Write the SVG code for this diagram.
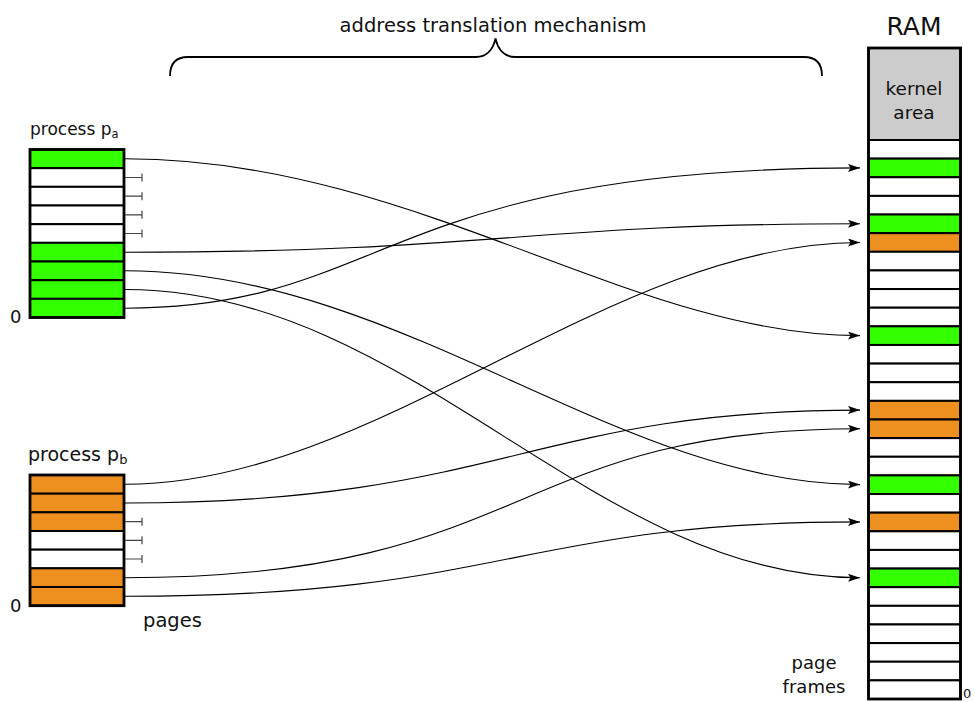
<svg xmlns="http://www.w3.org/2000/svg" width="975" height="702" viewBox="0 0 975 702">
<defs>
<style>
text{font-family:"DejaVu Sans","Liberation Sans",sans-serif;fill:#111}
.g{fill:#33ff00}
.o{fill:#ee9020}
.w{fill:#ffffff}
.k{fill:#cccccc}
.row{stroke:#000;stroke-width:2}
.frame{fill:none;stroke:#000;stroke-width:2.8}
.tick{fill:none;stroke:#444;stroke-width:1.2}
.conn{fill:none;stroke:#000;stroke-width:1.1}
</style>
<marker id="arr" viewBox="0 0 12 8" markerUnits="userSpaceOnUse" markerWidth="12" markerHeight="8" refX="12" refY="4" orient="auto">
<path d="M0,0 L12,4 L0,8 L2.5,4 z" fill="#000"/>
</marker>
</defs>
<rect width="975" height="702" fill="#fff"/>

<g id="brace">
<text x="493" y="31.5" font-size="19.5" text-anchor="middle">address translation mechanism</text>
<path d="M170,76 C170,64 175,57 188,57 L476,57 C486,57 493,50 495.5,38.5 C498,50 505,57 515,57 L804,57 C817,57 822,64 822,76" fill="none" stroke="#000" stroke-width="1.8"/>
</g>

<g id="process-a">
<text x="30" y="135" font-size="17">process p<tspan font-size="11.5" dy="3">a</tspan></text>
<text x="10" y="323" font-size="18">0</text>
<rect class="g row" x="30" y="149.5" width="94" height="18.67"/>
<rect class="w row" x="30" y="168.17" width="94" height="18.67"/>
<rect class="w row" x="30" y="186.83" width="94" height="18.67"/>
<rect class="w row" x="30" y="205.5" width="94" height="18.67"/>
<rect class="w row" x="30" y="224.17" width="94" height="18.67"/>
<rect class="g row" x="30" y="242.83" width="94" height="18.67"/>
<rect class="g row" x="30" y="261.5" width="94" height="18.67"/>
<rect class="g row" x="30" y="280.17" width="94" height="18.67"/>
<rect class="g row" x="30" y="298.83" width="94" height="18.67"/>
<rect class="frame" x="30" y="149.5" width="94" height="168"/>
<path class="tick" d="M125,177.5 H142 M142,173.5 V181.5 M125,196.2 H142 M142,192.2 V200.2 M125,214.8 H142 M142,210.8 V218.8 M125,233.5 H142 M142,229.5 V237.5"/>
</g>

<g id="process-b">
<text x="28" y="461" font-size="19">process p<tspan font-size="13" dy="3">b</tspan></text>
<text x="10" y="612" font-size="18">0</text>
<text x="143" y="627" font-size="19.5">pages</text>
<rect class="o row" x="30" y="475" width="94" height="18.67"/>
<rect class="o row" x="30" y="493.67" width="94" height="18.67"/>
<rect class="o row" x="30" y="512.33" width="94" height="18.67"/>
<rect class="w row" x="30" y="531" width="94" height="18.67"/>
<rect class="w row" x="30" y="549.67" width="94" height="18.67"/>
<rect class="o row" x="30" y="568.33" width="94" height="18.67"/>
<rect class="o row" x="30" y="587" width="94" height="18.67"/>
<rect class="frame" x="30" y="475" width="94" height="130.7"/>
<path class="tick" d="M125,521.7 H142 M142,517.7 V525.7 M125,540.3 H142 M142,536.3 V544.3 M125,559 H142 M142,555 V563"/>
</g>

<g id="ram">
<text x="914" y="35" font-size="25" text-anchor="middle">RAM</text>
<rect class="k row" x="868.5" y="48" width="92" height="92"/>
<text x="914" y="95" font-size="18.5" text-anchor="middle">kernel</text>
<text x="914" y="119" font-size="18.5" text-anchor="middle">area</text>
<rect class="w row" x="868.5" y="140" width="92" height="18.63"/>
<rect class="g row" x="868.5" y="158.63" width="92" height="18.63"/>
<rect class="w row" x="868.5" y="177.27" width="92" height="18.63"/>
<rect class="w row" x="868.5" y="195.9" width="92" height="18.63"/>
<rect class="g row" x="868.5" y="214.53" width="92" height="18.63"/>
<rect class="o row" x="868.5" y="233.17" width="92" height="18.63"/>
<rect class="w row" x="868.5" y="251.8" width="92" height="18.63"/>
<rect class="w row" x="868.5" y="270.43" width="92" height="18.63"/>
<rect class="w row" x="868.5" y="289.07" width="92" height="18.63"/>
<rect class="w row" x="868.5" y="307.7" width="92" height="18.63"/>
<rect class="g row" x="868.5" y="326.33" width="92" height="18.63"/>
<rect class="w row" x="868.5" y="344.97" width="92" height="18.63"/>
<rect class="w row" x="868.5" y="363.6" width="92" height="18.63"/>
<rect class="w row" x="868.5" y="382.23" width="92" height="18.63"/>
<rect class="o row" x="868.5" y="400.87" width="92" height="18.63"/>
<rect class="o row" x="868.5" y="419.5" width="92" height="18.63"/>
<rect class="w row" x="868.5" y="438.13" width="92" height="18.63"/>
<rect class="w row" x="868.5" y="456.77" width="92" height="18.63"/>
<rect class="g row" x="868.5" y="475.4" width="92" height="18.63"/>
<rect class="w row" x="868.5" y="494.03" width="92" height="18.63"/>
<rect class="o row" x="868.5" y="512.67" width="92" height="18.63"/>
<rect class="w row" x="868.5" y="531.3" width="92" height="18.63"/>
<rect class="w row" x="868.5" y="549.93" width="92" height="18.63"/>
<rect class="g row" x="868.5" y="568.57" width="92" height="18.63"/>
<rect class="w row" x="868.5" y="587.2" width="92" height="18.63"/>
<rect class="w row" x="868.5" y="605.83" width="92" height="18.63"/>
<rect class="w row" x="868.5" y="624.47" width="92" height="18.63"/>
<rect class="w row" x="868.5" y="643.1" width="92" height="18.63"/>
<rect class="w row" x="868.5" y="661.73" width="92" height="18.63"/>
<rect class="w row" x="868.5" y="680.37" width="92" height="18.63"/>
<rect class="frame" x="868.5" y="48" width="92" height="651"/>
<text x="814" y="669" font-size="18" text-anchor="middle">page</text>
<text x="814" y="693" font-size="18" text-anchor="middle">frames</text>
<text x="963" y="698" font-size="13">0</text>
</g>

<g id="connectors">
<path class="conn" marker-end="url(#arr)" d="M125,158.8 C414,158.8 630,335.6 860,335.6"/>
<path class="conn" marker-end="url(#arr)" d="M125,252.2 C500,252.2 520,223.8 860,223.8"/>
<path class="conn" marker-end="url(#arr)" d="M125,270.8 C402,270.8 616,484.6 860,484.6"/>
<path class="conn" marker-end="url(#arr)" d="M125,289.5 C412,289.5 592,577.8 860,577.8"/>
<path class="conn" marker-end="url(#arr)" d="M125,308.2 C388,308.2 380,167.9 860,167.9"/>
<path class="conn" marker-end="url(#arr)" d="M125,484.3 C377,484.3 609,242.5 860,242.5"/>
<path class="conn" marker-end="url(#arr)" d="M125,503 C501,503 531,410.1 860,410.1"/>
<path class="conn" marker-end="url(#arr)" d="M125,577.7 C533,577.7 507,428.8 860,428.8"/>
<path class="conn" marker-end="url(#arr)" d="M125,596.3 C508,596.3 516,521.9 860,521.9"/>
</g>
</svg>
